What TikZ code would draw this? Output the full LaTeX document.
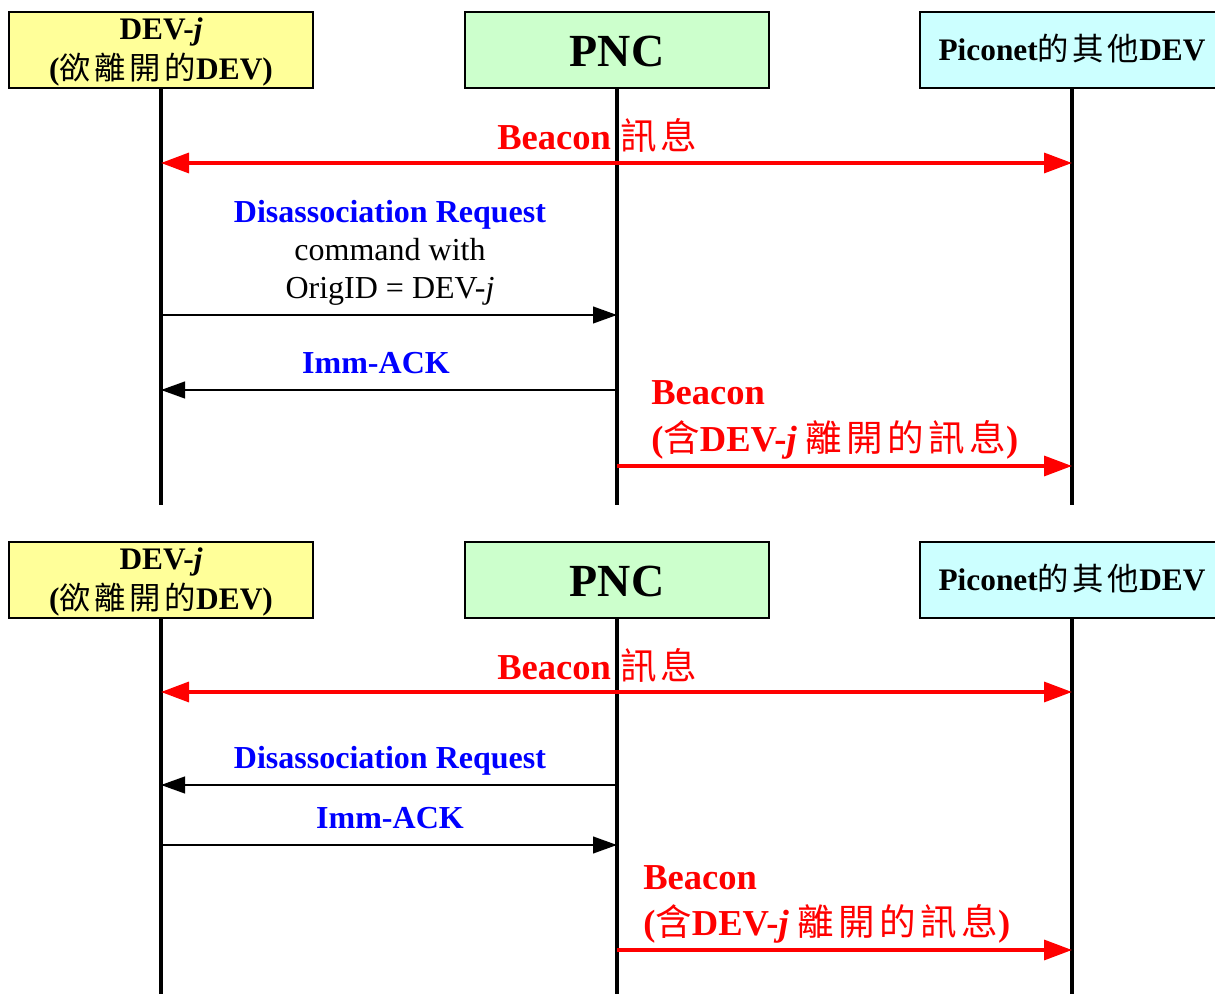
\documentclass[tikz,border=0pt]{standalone}
\usepackage{fontspec}
\setmainfont{Liberation Serif}
\newfontfamily\cjk{Noto Sans CJK TC}[LetterSpace=12]
\usetikzlibrary{arrows.meta}

\definecolor{hdryellow}{RGB}{255,255,153}
\definecolor{hdrgreen}{RGB}{204,255,204}
\definecolor{hdrcyan}{RGB}{204,255,255}

\newcommand\zh[1]{{\cjk\mdseries #1}}

\tikzset{
  hdr/.style={draw=black, line width=1.2pt, minimum width=228pt,
    minimum height=57pt, inner sep=0pt},
  lbl/.style={inner sep=0pt, anchor=base},
  hdrtext/.style={lbl, font=\bfseries\fontsize{23.5}{27}\selectfont},
  pnctext/.style={lbl, font=\bfseries\fontsize{34.5}{40}\selectfont},
  bluetext/.style={lbl, text=blue, font=\bfseries\fontsize{24}{28}\selectfont},
  plaintext/.style={lbl, font=\fontsize{24}{28}\selectfont},
  redtext/.style={lbl, anchor=base west, text=red, font=\bfseries\fontsize{27.4}{32}\selectfont},
  lifeline/.style={line width=3.6pt},
  msg/.style={line width=1.6pt, -{Triangle[length=18pt,width=12.5pt]}},
  beacon/.style={red, line width=2.5pt, -{Triangle[length=21pt,width=15pt]}},
  beaconboth/.style={red, line width=2.5pt,
    {Triangle[length=21pt,width=15pt]}-{Triangle[length=21pt,width=15pt]}},
}

\begin{document}
\begin{tikzpicture}[x=0.75pt, y=-0.75pt]
\useasboundingbox (0,0) rectangle (1215,994);

% ---------------- upper sequence: DEV-j leaves on its own ----------------
\node[hdr, fill=hdryellow] (devA) at (161,50) {};
\node[hdr, fill=hdrgreen]  (pncA) at (617,50) {};
\node[hdr, fill=hdrcyan]   (othA) at (1072,50) {};

\node[hdrtext] (devA-t1) at (161,40) {DEV-{\itshape j}};
\node[hdrtext] (devA-t2) at (161,80) {(\zh{欲離開的}DEV)};
\node[pnctext] (pncA-t)  at (617,67) {PNC};
\node[hdrtext] (othA-t)  at (1072,61) {Piconet\zh{的其他}DEV};

\coordinate (devA-end) at (161,505);
\coordinate (pncA-end) at (617,505);
\coordinate (othA-end) at (1072,505);
\draw[lifeline] (devA.south) -- (devA-end);
\draw[lifeline] (pncA.south) -- (pncA-end);
\draw[lifeline] (othA.south) -- (othA-end);

% beacon to everybody
\coordinate (a1l) at (161,163);
\coordinate (a1r) at (1072,163);
\draw[beaconboth] (a1l) -- (a1r);
\node[redtext] (a1t) at (497,150) {Beacon \zh{訊息}};

% disassociation request from DEV-j
\coordinate (a2l) at (161,315);
\coordinate (a2r) at (617,315);
\draw[msg] (a2l) -- (a2r);
\node[bluetext]  (a2t1) at (390,223) {Disassociation Request};
\node[plaintext] (a2t2) at (390,261) {command with};
\node[plaintext] (a2t3) at (390,299) {OrigID = DEV-{\itshape j}};

% acknowledgement from the PNC
\coordinate (a3l) at (161,390);
\coordinate (a3r) at (617,390);
\draw[msg] (a3r) -- (a3l);
\node[bluetext] (a3t) at (376,374) {Imm-ACK};

% beacon announcing the departure
\coordinate (a4l) at (617,466);
\coordinate (a4r) at (1072,466);
\draw[beacon] (a4l) -- (a4r);
\node[redtext] (a4t1) at (651,405) {Beacon};
\node[redtext] (a4t2) at (651,452) {(\zh{含}DEV-{\itshape j} \zh{離開的訊息})};

% ---------------- lower sequence: PNC removes DEV-j ----------------
\node[hdr, fill=hdryellow] (devB) at (161,580) {};
\node[hdr, fill=hdrgreen]  (pncB) at (617,580) {};
\node[hdr, fill=hdrcyan]   (othB) at (1072,580) {};

\node[hdrtext] (devB-t1) at (161,570) {DEV-{\itshape j}};
\node[hdrtext] (devB-t2) at (161,610) {(\zh{欲離開的}DEV)};
\node[pnctext] (pncB-t)  at (617,597) {PNC};
\node[hdrtext] (othB-t)  at (1072,591) {Piconet\zh{的其他}DEV};

\coordinate (devB-end) at (161,1000);
\coordinate (pncB-end) at (617,1000);
\coordinate (othB-end) at (1072,1000);
\draw[lifeline] (devB.south) -- (devB-end);
\draw[lifeline] (pncB.south) -- (pncB-end);
\draw[lifeline] (othB.south) -- (othB-end);

\coordinate (b1l) at (161,692);
\coordinate (b1r) at (1072,692);
\draw[beaconboth] (b1l) -- (b1r);
\node[redtext] (b1t) at (497,680) {Beacon \zh{訊息}};

\coordinate (b2l) at (161,785);
\coordinate (b2r) at (617,785);
\draw[msg] (b2r) -- (b2l);
\node[bluetext] (b2t) at (390,769) {Disassociation Request};

\coordinate (b3l) at (161,845);
\coordinate (b3r) at (617,845);
\draw[msg] (b3l) -- (b3r);
\node[bluetext] (b3t) at (390,829) {Imm-ACK};

\coordinate (b4l) at (617,950);
\coordinate (b4r) at (1072,950);
\draw[beacon] (b4l) -- (b4r);
\node[redtext] (b4t1) at (643,889) {Beacon};
\node[redtext] (b4t2) at (643,935) {(\zh{含}DEV-{\itshape j} \zh{離開的訊息})};
\end{tikzpicture}
\end{document}
